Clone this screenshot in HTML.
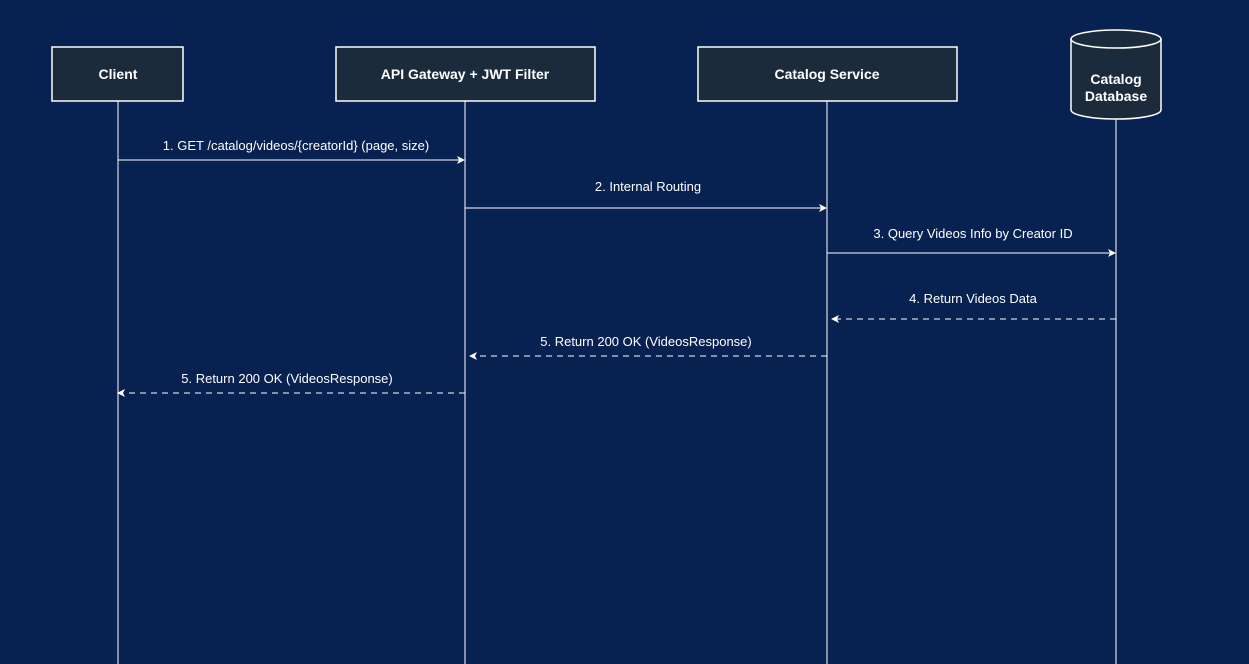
<!DOCTYPE html>
<html><head><style>html,body{margin:0;padding:0;background:#072150;}svg{display:block}</style></head><body>
<svg width="1249" height="664" xmlns="http://www.w3.org/2000/svg" font-family="Liberation Sans, Arial, sans-serif" font-size="13" fill="#fff">
<rect width="1249" height="664" fill="#072150"/>
<g stroke="#fff" stroke-width="1">
<line x1="118" y1="101" x2="118" y2="664"/>
<line x1="465" y1="101" x2="465" y2="664"/>
<line x1="827" y1="101" x2="827" y2="664"/>
<line x1="1116" y1="119" x2="1116" y2="664"/>
</g>
<g stroke="#fff" stroke-width="1.5" fill="#1c2b3c">
<rect x="52" y="47" width="131" height="54"/>
<rect x="336" y="47" width="259" height="54"/>
<rect x="698" y="47" width="259" height="54"/>
<path d="M1071,39 A45,9 0 0 1 1161,39 L1161,110 A45,9 0 0 1 1071,110 Z"/>
<path d="M1071,39 A45,9 0 0 0 1161,39" fill="none"/>
</g>
<g font-weight="bold" font-size="14" text-anchor="middle">
<text x="118" y="79">Client</text>
<text x="465" y="79">API Gateway + JWT Filter</text>
<text x="827" y="79">Catalog Service</text>
<text x="1116" y="84">Catalog</text>
<text x="1116" y="101">Database</text>
</g>
<g stroke="#fff" stroke-width="1" fill="none">
<line x1="118" y1="160" x2="459" y2="160"/>
<line x1="465" y1="208" x2="821" y2="208"/>
<line x1="827" y1="253" x2="1110" y2="253"/>
<line x1="1116" y1="319" x2="837" y2="319" stroke-dasharray="6,5"/>
<line x1="827" y1="356" x2="475" y2="356" stroke-dasharray="6,5"/>
<line x1="465" y1="393" x2="124" y2="393" stroke-dasharray="6,5"/>
</g>
<g fill="#fff">
<path d="M465,160 l-8,-4 l2,4 l-2,4z"/>
<path d="M827,208 l-8,-4 l2,4 l-2,4z"/>
<path d="M1116,253 l-8,-4 l2,4 l-2,4z"/>
<path d="M831,319 l8,-4 l-2,4 l2,4z"/>
<path d="M469,356 l8,-4 l-2,4 l2,4z"/>
<path d="M117,393 l8,-4 l-2,4 l2,4z"/>
</g>
<g text-anchor="middle">
<text x="296" y="150">1. GET /catalog/videos/{creatorId} (page, size)</text>
<text x="648" y="191">2. Internal Routing</text>
<text x="973" y="238">3. Query Videos Info by Creator ID</text>
<text x="973" y="303">4. Return Videos Data</text>
<text x="646" y="346">5. Return 200 OK (VideosResponse)</text>
<text x="287" y="383">5. Return 200 OK (VideosResponse)</text>
</g>
</svg>
</body></html>
